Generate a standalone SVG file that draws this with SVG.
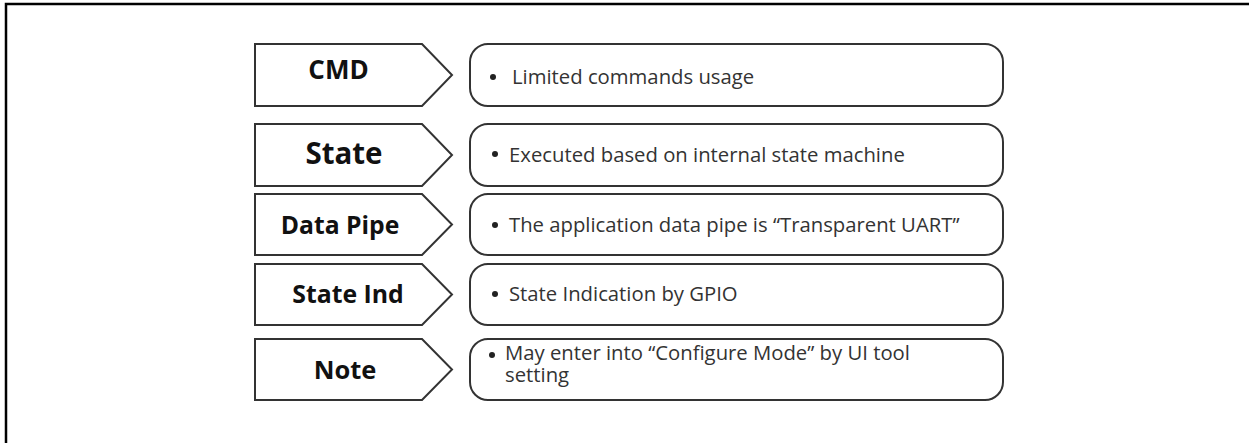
<svg xmlns="http://www.w3.org/2000/svg" width="1249" height="443" viewBox="0 0 1249 443">
<style>
.frame{fill:none;stroke:#000;stroke-width:2.5}
.tag{fill:#fff;stroke:#333;stroke-width:2;stroke-linejoin:miter}
.box{fill:#fff;stroke:#333;stroke-width:2}
.lbl{font-family:"Open Sans",sans-serif;font-weight:bold;fill:#111;text-anchor:middle}
.txt{font-family:"Open Sans",sans-serif;font-size:20.3px;fill:#333}
.dot{fill:#222}
</style>
<rect width="1249" height="443" fill="#fff"/>
<path class="frame" d="M6,443 V4 H1249"/>
<g id="cmd">
<path class="tag" d="M255,44 H422 L452,75 L422,106 H255 Z"/>
<text class="lbl" x="338.5" y="79" font-size="26">CMD</text>
<rect class="box" x="470" y="44" width="533" height="62" rx="18"/>
<circle class="dot" cx="493" cy="77" r="3"/>
<text class="txt" x="512" y="84">Limited commands usage</text>
</g>
<g id="state">
<path class="tag" d="M255,124 H422 L452,155 L422,186 H255 Z"/>
<text class="lbl" x="344" y="164" font-size="29.5">State</text>
<rect class="box" x="470" y="124" width="533" height="62" rx="18"/>
<circle class="dot" cx="495" cy="154" r="3"/>
<text class="txt" x="509" y="162">Executed based on internal state machine</text>
</g>
<g id="datapipe">
<path class="tag" d="M255,194 H422 L452,224.5 L422,255 H255 Z"/>
<text class="lbl" x="340" y="233.5" font-size="24.7">Data Pipe</text>
<rect class="box" x="470" y="194" width="533" height="61" rx="18"/>
<circle class="dot" cx="495" cy="225" r="3"/>
<text class="txt" x="509" y="232">The application data pipe is “Transparent UART”</text>
</g>
<g id="stateind">
<path class="tag" d="M255,264 H422 L452,294.5 L422,325 H255 Z"/>
<text class="lbl" x="348" y="303" font-size="24.8">State Ind</text>
<rect class="box" x="470" y="264" width="533" height="61" rx="18"/>
<circle class="dot" cx="495" cy="294" r="3"/>
<text class="txt" x="509" y="301">State Indication by GPIO</text>
</g>
<g id="note">
<path class="tag" d="M255,339 H422 L452,369.5 L422,400 H255 Z"/>
<text class="lbl" x="345" y="378.5" font-size="25.5">Note</text>
<rect class="box" x="470" y="339" width="533" height="61" rx="18"/>
<circle class="dot" cx="492" cy="355" r="3"/>
<text class="txt"><tspan x="505" y="360">May enter into “Configure Mode” by UI tool</tspan><tspan x="505" y="382">setting</tspan></text>
</g>
<g id="connectors"/>
</svg>
